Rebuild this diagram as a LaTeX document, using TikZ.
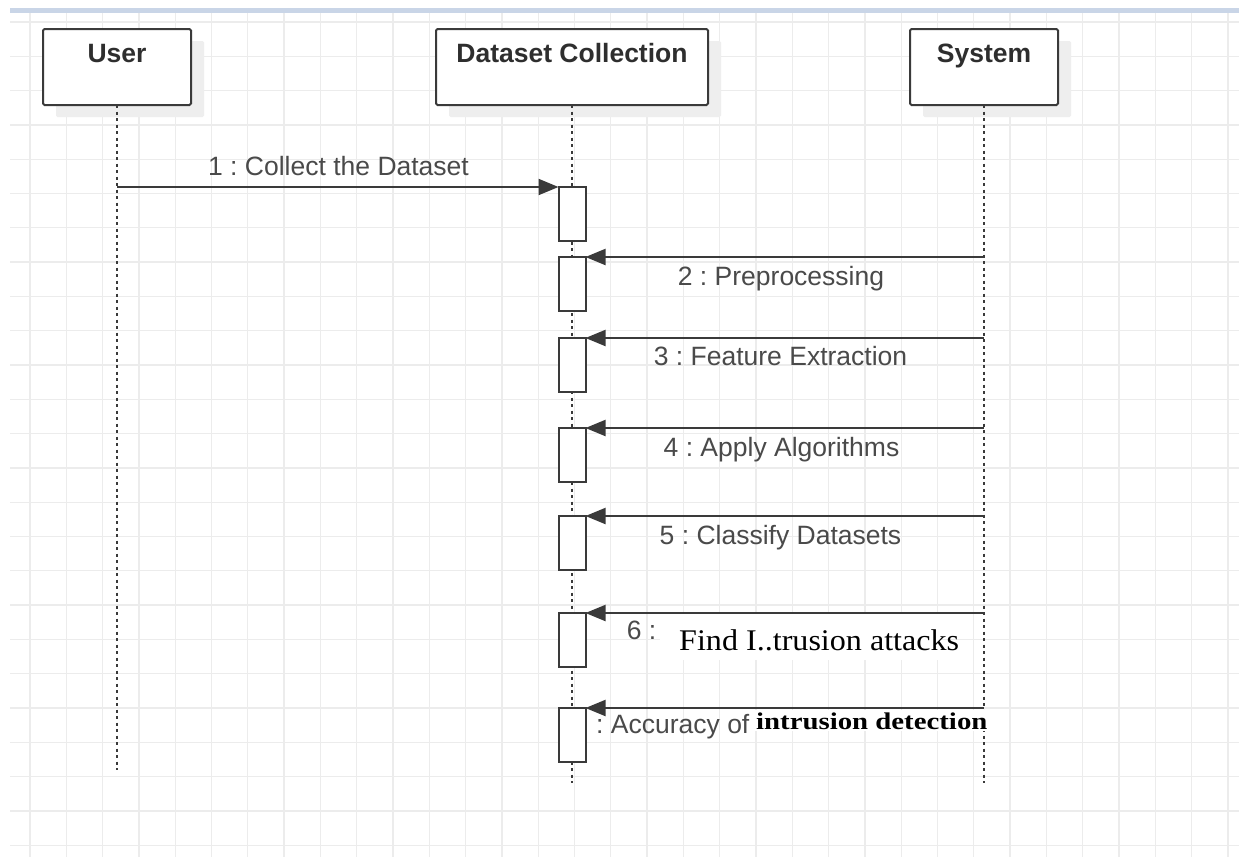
\documentclass[tikz,border=0pt]{standalone}
\usepackage{fontspec}
\setmainfont{Liberation Serif}
\newfontfamily\arialfont{Liberation Sans}
\usetikzlibrary{arrows.meta,shadows}
\definecolor{gridc}{HTML}{ECECEC}
\definecolor{topbar}{HTML}{C9D5E7}
\definecolor{inkc}{HTML}{3A3A3A}
\definecolor{labelc}{HTML}{4A4A4A}
\definecolor{shadowc}{HTML}{EEEEEE}
\frenchspacing
\begin{document}
\begin{tikzpicture}[x=1pt,y=-1pt,
  gridline/.style={draw=gridc, line width=1.3pt},
  actor/.style={draw=inkc, line width=2pt, fill=white, rounded corners=1.5pt,
    minimum height=76pt, inner sep=0pt, outer sep=0pt,
    drop shadow={shadow xshift=13pt, shadow yshift=-12pt, fill=shadowc, opacity=1}},
  title/.style={font=\arialfont\bfseries\fontsize{26.5}{30}\selectfont, text=black!82, anchor=base, inner sep=0pt},
  lifeline/.style={draw=inkc, line width=2pt, dash pattern=on 3pt off 3.5pt},
  activation/.style={draw=inkc, line width=2pt, fill=white, minimum width=27pt, minimum height=54pt, inner sep=0pt, outer sep=0pt},
  msg/.style={draw=inkc, line width=2pt, -{Triangle[length=20pt,width=16pt]}},
  msglabel/.style={font=\arialfont\fontsize{26.5}{30}\selectfont, text=labelc, anchor=base, inner sep=0pt},
  serifnote/.style={text=black, anchor=base west, inner sep=0pt}
]
% canvas and background grid
\useasboundingbox (0,0) rectangle (1239,857);
\fill[white] (0,0) rectangle (1239,857);
\foreach \i in {0,...,33} \draw[gridline] ({30+36.3*\i},12) -- ({30+36.3*\i},857);
\foreach \j in {0,...,24} \draw[gridline] (10,{22+34.3*\j}) -- (1239,{22+34.3*\j});
\fill[topbar] (10,8) rectangle (1239,12.5);

% participants
\node[actor, minimum width=148pt] (user) at (117,67) {};
\node[actor, minimum width=272pt] (ds) at (572,67) {};
\node[actor, minimum width=148pt] (sys) at (984,67) {};
\node[title] (userT) at (117,62) {User};
\node[title] (dsT) at (572,62) {Dataset Collection};
\node[title] (sysT) at (984,62) {System};

% lifelines
\coordinate (userEnd) at (117,770);
\coordinate (dsEnd) at (572,783);
\coordinate (sysEnd) at (984,783);
\draw[lifeline] (user.south) -- (userEnd);
\draw[lifeline] (ds.south) -- (dsEnd);
\draw[lifeline] (sys.south) -- (sysEnd);

% activation bars
\node[activation] (act1) at (572,214) {};
\node[activation] (act2) at (572,284) {};
\node[activation] (act3) at (572,365) {};
\node[activation] (act4) at (572,455) {};
\node[activation] (act5) at (572,543) {};
\node[activation] (act6) at (572,640) {};
\node[activation] (act7) at (572,735) {};

% message origins
\coordinate (u1) at (117,187);
\coordinate (s2) at (984,257);
\coordinate (s3) at (984,338);
\coordinate (s4) at (984,428);
\coordinate (s5) at (984,516);
\coordinate (s6) at (984,613);
\coordinate (s7) at (984,708);

% messages
\draw[msg] (u1) -- (act1.north west);
\draw[msg] (s2) -- (act2.north east);
\draw[msg] (s3) -- (act3.north east);
\draw[msg] (s4) -- (act4.north east);
\draw[msg] (s5) -- (act5.north east);
\draw[msg] (s6) -- (act6.north east);
\draw[msg] (s7) -- (act7.north east);

% message labels
\node[msglabel] (m1) at (338.5,175) {1 : Collect the Dataset};
\node[msglabel] (m2) at (781,285) {2 : Preprocessing};
\node[msglabel] (m3) at (780.5,365) {3 : Feature Extraction};
\node[msglabel] (m4) at (781.5,456) {4 : Apply Algorithms};
\node[msglabel] (m5) at (780.5,544) {5 : Classify Datasets};
\node[msglabel] (m6) at (641.5,639) {6 :};
\fill[white] (660,614) rectangle (940,660);
\node[serifnote] (m6b) at (679,650) {\fontsize{30}{34}\selectfont\scalebox{1.07}[1]{Find I..trusion attacks}};
\node[msglabel, anchor=base west] (m7) at (596,733) {: Accuracy of};
\node[serifnote, fill=white, inner xsep=1pt, inner ysep=2pt] (m7b) at (755,729) {\fontsize{24}{28}\selectfont\scalebox{1.2}[1]{\bfseries intrusion detection}};
\end{tikzpicture}
\end{document}
